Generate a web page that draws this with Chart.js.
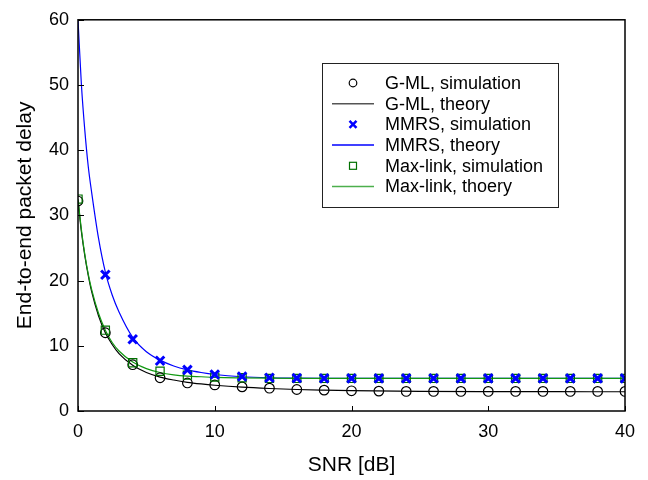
<!DOCTYPE html>
<html lang="en">
<head>
    <meta charset="UTF-8">
    <title>End-to-end packet delay vs SNR</title>
    <script src="https://cdn.jsdelivr.net/npm/chart.js"></script>
    <style>
        body {
            margin: 0;
            background: #fff;
        }
        #wrap {
            width: 648px;
            height: 480px;
        }
    </style>
</head>
<body>
    <div id="wrap"><canvas id="delayChart" width="648" height="480"></canvas></div>

    <script>
        // simulation points, every 2 dB
        const snrSim = [0, 2, 4, 6, 8, 10, 12, 14, 16, 18, 20, 22, 24, 26, 28, 30, 32, 34, 36, 38, 40];
        const gmlSim = [32.2, 12.0, 7.1, 5.1, 4.3, 4.0, 3.7, 3.5, 3.3, 3.2, 3.1, 3.05, 3.0, 3.0, 3.0, 3.0, 3.0, 3.0, 3.0, 3.0, 3.0];
        const mmrsSim = [null, 20.9, 11.0, 7.7, 6.3, 5.6, 5.3, 5.1, 5.05, 5.0, 5.0, 5.0, 5.0, 5.0, 5.0, 5.0, 5.0, 5.0, 5.0, 5.0, 5.0];
        const maxLinkSim = [32.5, 12.4, 7.4, 6.1, 5.5, 5.2, 5.1, 5.0, 5.0, 5.0, 5.0, 5.0, 5.0, 5.0, 5.0, 5.0, 5.0, 5.0, 5.0, 5.0, 5.0];

        // theory curves
        const snrTheory = [0, 0.25, 0.5, 0.75, 1, 1.5, 2, 2.5, 3, 4, 5, 6, 7, 8, 9, 10, 12, 14, 16, 18, 20, 25, 30, 35, 40];
        const gmlTheory = [32.3, 27.5, 23.8, 20.8, 18.3, 14.6, 12.0, 10.2, 8.8, 7.0, 5.9, 5.2, 4.75, 4.4, 4.15, 3.95, 3.65, 3.45, 3.3, 3.2, 3.12, 3.02, 2.98, 2.96, 2.95];
        const mmrsTheory = [60, 50, 43, 37.5, 33.5, 26.5, 21.3, 17.8, 15.2, 11.3, 9.1, 7.8, 6.9, 6.3, 5.9, 5.6, 5.25, 5.1, 5.05, 5.02, 5.0, 5.0, 5.0, 5.0, 5.0];
        const maxLinkTheory = [32.5, 27.8, 24.0, 21.0, 18.6, 15.0, 12.4, 10.5, 9.2, 7.5, 6.5, 5.9, 5.55, 5.35, 5.25, 5.15, 5.07, 5.03, 5.01, 5.0, 5.0, 5.0, 5.0, 5.0, 5.0];

        const xTicks = [0, 10, 20, 30, 40];
        const yTicks = [0, 10, 20, 30, 40, 50, 60];

        const legendLabels = ['G-ML, simulation', 'G-ML, theory', 'MMRS, simulation', 'MMRS, theory', 'Max-link, simulation', 'Max-link, thoery'];

        const BLACK = '#000000';
        const BLUE = '#0000ff';
        const GREEN_LINE = '#119911';
        const GREEN_MARK = '#007000';
        const FONT = '"Liberation Sans", Arial, sans-serif';

        function pts(xs, ys) {
            return xs.map((x, i) => ({ x: x, y: ys[i] }));
        }

        // inward ticks + full frame
        const framePlugin = {
            id: 'frame',
            afterDraw(chart) {
                const ctx = chart.ctx;
                const a = chart.chartArea;
                const xs = chart.scales.x;
                const ys = chart.scales.y;
                ctx.save();
                ctx.strokeStyle = BLACK;
                ctx.lineWidth = 1;
                ctx.beginPath();
                xTicks.forEach(v => {
                    const px = Math.round(xs.getPixelForValue(v)) + 0.5;
                    ctx.moveTo(px, a.bottom);
                    ctx.lineTo(px, a.bottom - 5);
                });
                yTicks.forEach(v => {
                    const py = Math.round(ys.getPixelForValue(v)) + 0.5;
                    ctx.moveTo(a.left, py);
                    ctx.lineTo(a.left + 6, py);
                });
                ctx.stroke();
                ctx.lineWidth = 1.5;
                ctx.strokeRect(a.left, a.top, a.right - a.left, a.bottom - a.top);
                ctx.restore();
            }
        };

        // legend box inside the plot
        const legendPlugin = {
            id: 'boxLegend',
            afterDraw(chart) {
                const ctx = chart.ctx;
                const boxL = 322, boxT = 63, boxW = 236, boxH = 144;
                const rowY0 = 83, rowDY = 20.7;
                const lineX0 = 332, lineX1 = 374, markX = 353, textX = 385;
                ctx.save();
                ctx.fillStyle = '#ffffff';
                ctx.fillRect(boxL, boxT, boxW, boxH);
                ctx.strokeStyle = '#222';
                ctx.lineWidth = 1;
                ctx.strokeRect(boxL + 0.5, boxT + 0.5, boxW, boxH);

                legendLabels.forEach((label, i) => {
                    const y = rowY0 + i * rowDY;
                    ctx.beginPath();
                    if (i === 0) {
                        ctx.strokeStyle = BLACK;
                        ctx.lineWidth = 1.2;
                        ctx.arc(markX, y, 3.8, 0, Math.PI * 2);
                        ctx.stroke();
                    } else if (i === 2) {
                        ctx.strokeStyle = BLUE;
                        ctx.lineWidth = 2.5;
                        ctx.moveTo(markX - 3.5, y - 3.5); ctx.lineTo(markX + 3.5, y + 3.5);
                        ctx.moveTo(markX + 3.5, y - 3.5); ctx.lineTo(markX - 3.5, y + 3.5);
                        ctx.stroke();
                    } else if (i === 4) {
                        ctx.strokeStyle = GREEN_MARK;
                        ctx.lineWidth = 1.2;
                        ctx.strokeRect(markX - 3.5, y - 3.5, 7, 7);
                    } else {
                        ctx.strokeStyle = i === 1 ? '#555' : (i === 3 ? BLUE : '#4caf4c');
                        ctx.lineWidth = 1.5;
                        ctx.moveTo(lineX0, y);
                        ctx.lineTo(lineX1, y);
                        ctx.stroke();
                    }
                    ctx.fillStyle = BLACK;
                    ctx.font = '18px ' + FONT;
                    ctx.textBaseline = 'middle';
                    ctx.textAlign = 'left';
                    ctx.fillText(label, textX, y + 1);
                });
                ctx.restore();
            }
        };

        const lineDefaults = {
            showLine: true,
            pointRadius: 0,
            borderWidth: 1.2,
            cubicInterpolationMode: 'monotone',
            fill: false
        };

        const simDefaults = {
            showLine: false,
            backgroundColor: 'rgba(0,0,0,0)',
            pointHoverRadius: 0
        };

        const ctx = document.getElementById('delayChart').getContext('2d');
        const delayChart = new Chart(ctx, {
            type: 'line',
            data: {
                datasets: [
                    Object.assign({}, simDefaults, {
                        label: legendLabels[2],
                        data: pts(snrSim, mmrsSim),
                        pointStyle: 'crossRot',
                        pointRadius: 6,
                        pointBorderWidth: 3,
                        borderColor: BLUE,
                        order: 0
                    }),
                    Object.assign({}, simDefaults, {
                        label: legendLabels[4],
                        data: pts(snrSim, maxLinkSim),
                        pointStyle: 'rect',
                        pointRadius: 5.8,
                        pointBorderWidth: 1.2,
                        borderColor: GREEN_MARK,
                        order: 1
                    }),
                    Object.assign({}, simDefaults, {
                        label: legendLabels[0],
                        data: pts(snrSim, gmlSim),
                        pointStyle: 'circle',
                        pointRadius: 4.8,
                        pointBorderWidth: 1.2,
                        borderColor: BLACK,
                        order: 2
                    }),
                    Object.assign({}, lineDefaults, {
                        label: legendLabels[5],
                        data: pts(snrTheory, maxLinkTheory),
                        borderColor: GREEN_LINE,
                        order: 3
                    }),
                    Object.assign({}, lineDefaults, {
                        label: legendLabels[3],
                        data: pts(snrTheory, mmrsTheory),
                        borderColor: BLUE,
                        order: 4
                    }),
                    Object.assign({}, lineDefaults, {
                        label: legendLabels[1],
                        data: pts(snrTheory, gmlTheory),
                        borderColor: BLACK,
                        order: 5
                    })
                ]
            },
            options: {
                responsive: false,
                animation: false,
                devicePixelRatio: 1,
                layout: {
                    padding: { top: 18, right: 23, bottom: 0, left: 0 }
                },
                plugins: {
                    legend: { display: false },
                    tooltip: { enabled: false }
                },
                scales: {
                    x: {
                        type: 'linear',
                        min: 0,
                        max: 40,
                        afterFit(scale) { scale.height = 69; },
                        afterBuildTicks(scale) { scale.ticks = xTicks.map(v => ({ value: v })); },
                        grid: { display: false, drawTicks: false },
                        border: { display: false },
                        ticks: {
                            padding: 10,
                            color: BLACK,
                            font: { family: FONT, size: 18 }
                        },
                        title: {
                            display: true,
                            text: 'SNR [dB]',
                            color: BLACK,
                            padding: { top: 0, bottom: 2 },
                            font: { family: FONT, size: 21 }
                        }
                    },
                    y: {
                        type: 'linear',
                        min: 0,
                        max: 60,
                        afterFit(scale) { scale.width = 78; },
                        afterBuildTicks(scale) { scale.ticks = yTicks.map(v => ({ value: v })); },
                        grid: { display: false, drawTicks: false },
                        border: { display: false },
                        ticks: {
                            padding: 9,
                            color: BLACK,
                            font: { family: FONT, size: 18 }
                        },
                        title: {
                            display: true,
                            text: 'End-to-end packet delay',
                            color: BLACK,
                            padding: { top: 13, bottom: 0 },
                            font: { family: FONT, size: 21 }
                        }
                    }
                }
            },
            plugins: [framePlugin, legendPlugin]
        });
    </script>
</body>
</html>
